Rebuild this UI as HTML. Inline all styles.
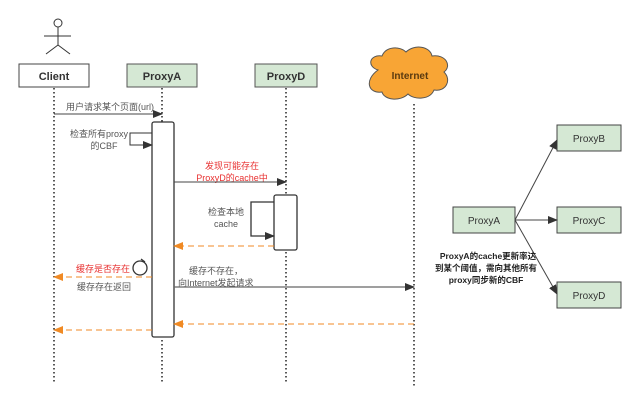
<!DOCTYPE html>
<html><head><meta charset="utf-8"><style>
body{margin:0;background:#fff;}
svg text{font-family:"Liberation Sans","Noto Sans CJK SC",sans-serif;}
</style></head><body>
<svg width="640" height="406" viewBox="0 0 640 406" xmlns="http://www.w3.org/2000/svg">
<defs>
<marker id="ab" markerWidth="10" markerHeight="8" refX="9" refY="4" orient="auto" markerUnits="userSpaceOnUse"><path d="M0,0 L10,4 L0,8 z" fill="#333"/></marker>
<marker id="ao" markerWidth="10" markerHeight="8" refX="9" refY="4" orient="auto" markerUnits="userSpaceOnUse"><path d="M0,0 L10,4 L0,8 z" fill="#f08a24"/></marker>
</defs>
<g stroke="#333" stroke-width="1" fill="none">
<circle cx="58" cy="23" r="4" fill="#fff"/>
<line x1="58" y1="27" x2="58" y2="45"/>
<line x1="44" y1="36" x2="71" y2="36"/>
<line x1="58" y1="45" x2="46" y2="54"/>
<line x1="58" y1="45" x2="70" y2="54"/>
</g>
<g stroke="#222" stroke-width="1.5" stroke-dasharray="1.5,2.5">
<line x1="54" y1="88" x2="54" y2="382"/>
<line x1="162" y1="88" x2="162" y2="382"/>
<line x1="286" y1="88" x2="286" y2="382"/>
<line x1="414" y1="104" x2="414" y2="388"/>
</g>
<rect x="19" y="64" width="70" height="23" fill="#fff" stroke="#444"/>
<text x="54" y="80" font-size="11" font-weight="bold" text-anchor="middle" fill="#333">Client</text>
<rect x="127" y="64" width="70" height="23" fill="#d5e8d4" stroke="#555"/>
<text x="162" y="80" font-size="11" font-weight="bold" text-anchor="middle" fill="#333">ProxyA</text>
<rect x="255" y="64" width="62" height="23" fill="#d5e8d4" stroke="#555"/>
<text x="286" y="80" font-size="11" font-weight="bold" text-anchor="middle" fill="#333">ProxyD</text>
<path d="M378,70 C366,66 370,54 382,56 C386,46 400,46 406,52 C414,44 430,46 432,56 C446,54 452,66 444,72 C452,80 446,92 434,90 C430,100 414,100 408,94 C400,102 384,100 382,92 C368,94 364,80 378,70 Z" fill="#f8a535" stroke="#555"/>
<text x="410" y="79" font-size="10" font-weight="bold" text-anchor="middle" fill="#5a3a10">Internet</text>
<rect x="152" y="122" width="22" height="215" rx="2" fill="#fff" stroke="#333" stroke-width="1.3"/>
<rect x="274" y="195" width="23" height="55" rx="2" fill="#fff" stroke="#333" stroke-width="1.3"/>
<line x1="54" y1="114" x2="162" y2="114" stroke="#444" marker-end="url(#ab)"/>
<text x="110" y="110" font-size="9" text-anchor="middle" fill="#555">用户请求某个页面(url)</text>
<path d="M152,133 H130 V145 H152" fill="none" stroke="#333" marker-end="url(#ab)"/>
<text x="128" y="137" font-size="9" text-anchor="end" fill="#555">检查所有proxy</text>
<text x="104" y="149" font-size="9" text-anchor="middle" fill="#555">的CBF</text>
<text x="232" y="169" font-size="9" text-anchor="middle" fill="#e83030">发现可能存在</text>
<text x="232" y="181" font-size="9" text-anchor="middle" fill="#e83030">ProxyD的cache中</text>
<line x1="174" y1="182" x2="286" y2="182" stroke="#444" marker-end="url(#ab)"/>
<path d="M274,202 H251 V236 H274" fill="none" stroke="#333" stroke-width="1.3" marker-end="url(#ab)"/>
<text x="226" y="215" font-size="9" text-anchor="middle" fill="#555">检查本地</text>
<text x="226" y="227" font-size="9" text-anchor="middle" fill="#555">cache</text>
<line x1="274" y1="246" x2="174" y2="246" stroke="#f08a24" stroke-dasharray="6,4" marker-end="url(#ao)"/>
<circle cx="140" cy="268" r="7" fill="#fff" stroke="#333" stroke-width="1.3"/>
<path d="M141,259 L145,262" stroke="#333" stroke-width="1.3"/>
<text x="130" y="272" font-size="9" text-anchor="end" fill="#e83030">缓存是否存在</text>
<line x1="152" y1="277" x2="54" y2="277" stroke="#f08a24" stroke-dasharray="6,4" marker-end="url(#ao)"/>
<text x="104" y="290" font-size="9" text-anchor="middle" fill="#555">缓存存在返回</text>
<text x="216" y="274" font-size="9" text-anchor="middle" fill="#555">缓存不存在，</text>
<text x="178" y="286" font-size="9" fill="#555">向Internet发起请求</text>
<line x1="174" y1="287" x2="414" y2="287" stroke="#666" stroke-width="1.3" marker-end="url(#ab)"/>
<line x1="414" y1="324" x2="174" y2="324" stroke="#f08a24" stroke-dasharray="6,4" marker-end="url(#ao)"/>
<line x1="152" y1="330" x2="54" y2="330" stroke="#f08a24" stroke-dasharray="6,4" marker-end="url(#ao)"/>
<rect x="453" y="207" width="62" height="26" fill="#d5e8d4" stroke="#444"/>
<text x="484" y="224" font-size="10" text-anchor="middle" fill="#333">ProxyA</text>
<rect x="557" y="125" width="64" height="26" fill="#d5e8d4" stroke="#444"/>
<text x="589" y="142" font-size="10" text-anchor="middle" fill="#333">ProxyB</text>
<rect x="557" y="207" width="64" height="26" fill="#d5e8d4" stroke="#444"/>
<text x="589" y="224" font-size="10" text-anchor="middle" fill="#333">ProxyC</text>
<rect x="557" y="282" width="64" height="26" fill="#d5e8d4" stroke="#444"/>
<text x="589" y="299" font-size="10" text-anchor="middle" fill="#333">ProxyD</text>
<line x1="515" y1="220" x2="557" y2="140" stroke="#444" marker-end="url(#ab)"/>
<line x1="515" y1="220" x2="557" y2="220" stroke="#444" marker-end="url(#ab)"/>
<line x1="515" y1="220" x2="557" y2="294" stroke="#444" marker-end="url(#ab)"/>
<text x="488" y="259" font-size="8.5" font-weight="bold" text-anchor="middle" fill="#222">ProxyA的cache更新率达</text>
<text x="486" y="271" font-size="8.5" font-weight="bold" text-anchor="middle" fill="#222">到某个阈值，需向其他所有</text>
<text x="486" y="283" font-size="8.5" font-weight="bold" text-anchor="middle" fill="#222">proxy同步新的CBF</text>
</svg>
</body></html>
